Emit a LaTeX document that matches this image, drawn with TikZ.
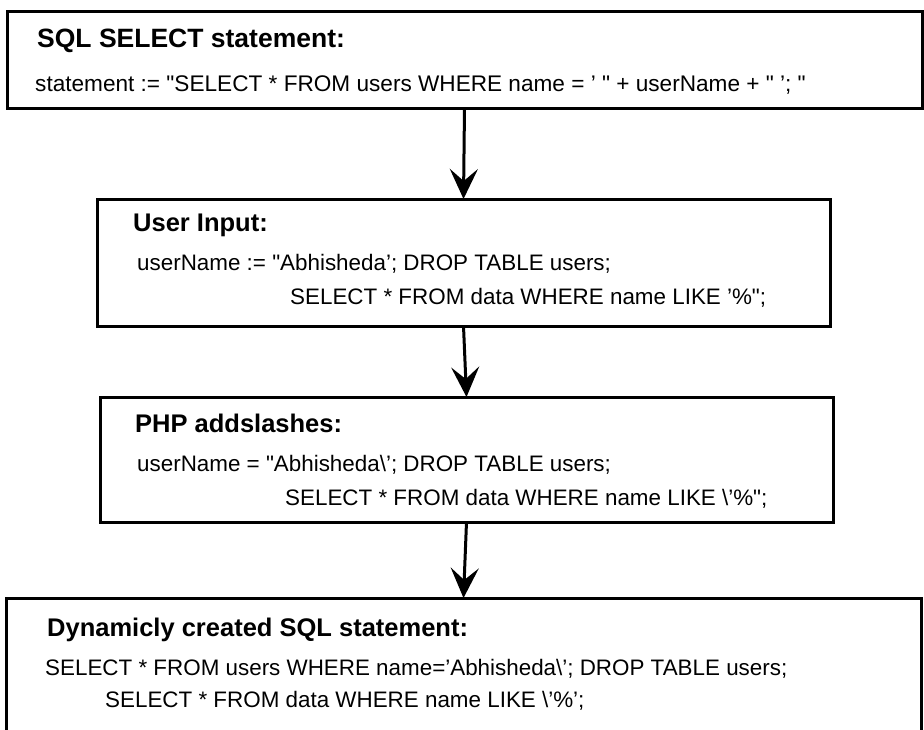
\documentclass[tikz,border=0pt]{standalone}
\usepackage{fontspec}
\setmainfont{Liberation Sans}
% plain family without TeX ligature mapping, so " stays straight
\newfontfamily\codefont{Liberation Sans}
\usetikzlibrary{arrows.meta}
\begin{document}
\begin{tikzpicture}[x=1pt,y=-1pt,
  panel/.style={draw, line width=3pt, anchor=north west, inner sep=0pt, outer sep=0pt},
  head/.style={anchor=base west, inner sep=0pt, font=\fontsize{25.5}{30}\selectfont\bfseries},
  code/.style={anchor=base west, inner sep=0pt, font=\codefont\fontsize{22.4}{27}\selectfont},
  flow/.style={line width=3pt, -{Stealth[length=30pt,width=28pt,inset=12pt]}}]
\useasboundingbox (0,0) rectangle (924,729);
\clip (0,0) rectangle (924,729);

% the four stages
\node[panel, minimum width=915pt, minimum height=97pt]  (select)  at (7,11)  {};
\node[panel, minimum width=733pt, minimum height=127pt] (input)   at (97,199) {};
\node[panel, minimum width=733pt, minimum height=125pt] (escape)  at (100,397) {};
\node[panel, minimum width=915pt, minimum height=160pt] (result)  at (6,598) {};

% texts
\node[head, font=\fontsize{26.5}{31}\selectfont\bfseries] (selectT) at (37,47) {SQL SELECT statement:};
\node[code, font=\codefont\fontsize{22.6}{27}\selectfont] (selectA) at (35,91) {statement := "SELECT * FROM users WHERE name = ’ " + userName + " ’; "};

\node[head] (inputT) at (133,231) {User Input:};
\node[code] (inputA) at (137,270) {userName := "Abhisheda’; DROP TABLE users;};
\node[code] (inputB) at (290,304) {SELECT * FROM data WHERE name LIKE ’\%";};

\node[head] (escapeT) at (135,432) {PHP addslashes:};
\node[code] (escapeA) at (137,471) {userName = "Abhisheda\textbackslash ’; DROP TABLE users;};
\node[code] (escapeB) at (285,505) {SELECT * FROM data WHERE name LIKE \textbackslash ’\%";};

\node[head] (resultT) at (47,636) {Dynamicly created SQL statement:};
\node[code] (resultA) at (45,675) {SELECT * FROM users WHERE name=’Abhisheda\textbackslash ’; DROP TABLE users;};
\node[code] (resultB) at (105,707) {SELECT * FROM data WHERE name LIKE \textbackslash ’\%’;};

% flow between stages
\draw[flow] (select.south) -- (input.north);
\draw[flow] (input.south) -- (escape.north);
\draw[flow] (escape.south) -- (result.north);
\end{tikzpicture}
\end{document}
